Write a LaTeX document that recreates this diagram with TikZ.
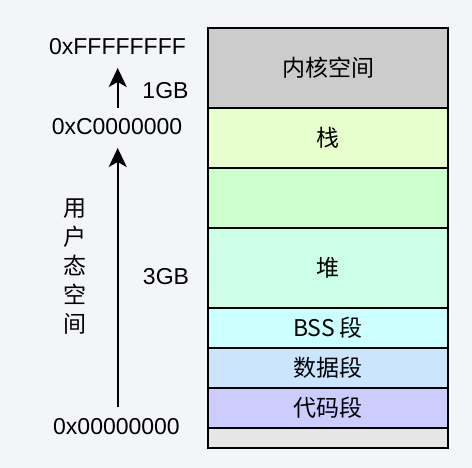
\documentclass[tikz,border=0pt]{standalone}
\usepackage{fontspec}
\setmainfont{Liberation Sans}
\newfontfamily\cjk{Noto Sans CJK SC}
\usetikzlibrary{arrows.meta}
\definecolor{bg}{HTML}{F4F5F8}
\definecolor{kerncol}{HTML}{CCCCCC}
\definecolor{stackcol}{HTML}{E6FFCC}
\definecolor{gapcol}{HTML}{CCFFCC}
\definecolor{heapcol}{HTML}{CCFFE6}
\definecolor{bsscol}{HTML}{CCFFFF}
\definecolor{datacol}{HTML}{CCE5FF}
\definecolor{codecol}{HTML}{CCCCFF}
\definecolor{basecol}{HTML}{E6E6E6}
\begin{document}
\begin{tikzpicture}[x=1pt,y=-1pt,
  font=\fontsize{23}{28}\selectfont,
  seg/.style={draw=black, line width=2pt, minimum width=240pt, inner sep=0pt, font=\cjk\fontsize{23}{28}\selectfont},
  lbl/.style={anchor=base, inner sep=0pt},
  arr/.style={line width=2pt, -{Stealth[length=19pt,width=18pt,inset=5pt]}}]
\useasboundingbox[fill=bg] (0,0) rectangle (472,468);
% memory segments
\node[seg, fill=kerncol,  minimum height=80pt] (kern)  at (328,68)  {内核空间};
\node[seg, fill=stackcol, minimum height=60pt] (stack) at (328,138) {栈};
\node[seg, fill=gapcol,   minimum height=60pt] (gap)   at (328,198) {};
\node[seg, fill=heapcol,  minimum height=80pt] (heap)  at (328,268) {堆};
\node[seg, fill=bsscol,   minimum height=40pt] (bss)   at (328,328) {BSS 段};
\node[seg, fill=datacol,  minimum height=40pt] (data)  at (328,368) {数据段};
\node[seg, fill=codecol,  minimum height=40pt] (code)  at (328,408) {代码段};
\node[seg, fill=basecol,  minimum height=20pt] (base)  at (328,438) {};
% address labels
\node[lbl] (ff) at (117.5,55) {0xFFFFFFFF};
\node[lbl] (c0) at (117,135) {0xC0000000};
\node[lbl] (z0) at (116.5,434) {0x00000000};
\node[lbl] (g1) at (165.5,99) {1GB};
\node[lbl] (g3) at (166,285) {3GB};
\node[align=center, inner sep=0pt, font=\cjk\fontsize{23}{29}\selectfont] (us) at (75,267) {用\\户\\态\\空\\间};
% arrows
\coordinate (a1s) at (117.7,108);
\coordinate (a1e) at (117.7,68);
\coordinate (a2s) at (117.7,407);
\coordinate (a2e) at (117.7,148);
\draw[arr] (a1s) -- (a1e);
\draw[arr] (a2s) -- (a2e);
\end{tikzpicture}
\end{document}
